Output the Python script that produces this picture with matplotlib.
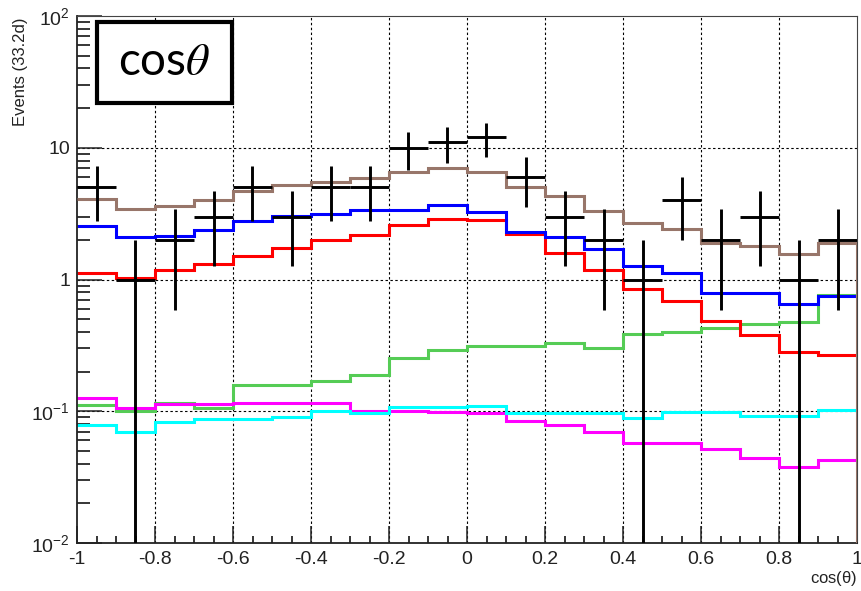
import numpy as np
import matplotlib
matplotlib.use("Agg")
import matplotlib.pyplot as plt
from matplotlib.patches import Rectangle
from matplotlib.ticker import FixedLocator, LogLocator, NullFormatter

plt.rcParams['font.family'] = ['Liberation Sans', 'DejaVu Sans']

# 20 bins in cos(theta), width 0.1
edges = np.linspace(-1.0, 1.0, 21)
centers = 0.5 * (edges[:-1] + edges[1:])

# observed events per bin
data = [5, 1, 2, 3, 5, 3, 5, 5, 10, 11, 12, 6, 3, 2, 1, 4, 2, 3, 1, 2]

# expectations per component
total = [4.1, 3.4, 3.6, 4.0, 4.7, 5.2, 5.5, 5.9, 6.5, 7.0,
         6.5, 5.0, 4.3, 3.3, 2.7, 2.4, 1.9, 1.8, 1.55, 1.9]
blue = [2.55, 2.1, 2.15, 2.36, 2.77, 3.05, 3.14, 3.39, 3.39, 3.66,
        3.23, 2.28, 2.1, 1.69, 1.26, 1.12, 0.79, 0.79, 0.65, 0.75]
red = [1.12, 1.02, 1.18, 1.31, 1.5, 1.72, 2.0, 2.17, 2.61, 2.9,
       2.81, 2.22, 1.59, 1.19, 0.85, 0.685, 0.483, 0.377, 0.281, 0.266]
green = [0.112, 0.1, 0.116, 0.106, 0.157, 0.157, 0.17, 0.188, 0.254, 0.29,
         0.313, 0.313, 0.331, 0.304, 0.383, 0.399, 0.425, 0.46, 0.475, 0.76]
magenta = [0.126, 0.105, 0.113, 0.113, 0.116, 0.116, 0.116, 0.1, 0.1, 0.098,
           0.097, 0.0845, 0.079, 0.07, 0.0579, 0.057, 0.0515, 0.0438, 0.0376, 0.0426]
cyan = [0.0783, 0.07, 0.0822, 0.088, 0.088, 0.091, 0.1005, 0.0965, 0.107, 0.107,
        0.11, 0.0965, 0.0965, 0.0965, 0.0894, 0.098, 0.098, 0.092, 0.092, 0.1016]

xtick_vals = [-1, -0.8, -0.6, -0.4, -0.2, 0, 0.2, 0.4, 0.6, 0.8, 1]
xtick_labels = ['-1', '-0.8', '-0.6', '-0.4', '-0.2', '0', '0.2', '0.4', '0.6', '0.8', '1']
ytick_vals = [1e-2, 1e-1, 1, 10, 100]
ytick_labels = [r'$\mathregular{10^{-2}}$', r'$\mathregular{10^{-1}}$', '1', '10',
                r'$\mathregular{10^{2}}$']

fig = plt.figure(figsize=(8.62, 5.91), dpi=100)
ax = fig.add_axes([77 / 862, 1 - 543 / 591, 780 / 862, 527 / 591])
ax.set_yscale('log')
ax.set_xlim(-1, 1)
ax.set_ylim(1e-2, 1e2)

# grid at major ticks, dotted like ROOT
for xv in xtick_vals[1:-1]:
    ax.axvline(xv, color='black', lw=0.8, ls=(0, (2.2, 2.2)), zorder=1)
for yv in ytick_vals[1:-1]:
    ax.axhline(yv, color='black', lw=0.8, ls=(0, (2.2, 2.2)), zorder=1)

lw = 2.2
ax.stairs(green, edges, baseline=None, color='#55cc55', lw=lw, zorder=2)
ax.stairs(magenta, edges, baseline=None, color='#ff00ff', lw=lw, zorder=2)
ax.stairs(cyan, edges, baseline=None, color='#00ffff', lw=lw, zorder=2)
ax.stairs(red, edges, baseline=None, color='#ff0000', lw=lw, zorder=2)
ax.stairs(blue, edges, baseline=None, color='#0000ff', lw=lw, zorder=2)
ax.stairs(total, edges, baseline=None, color='#98766a', lw=lw, zorder=2.6)
# total histogram closes down to the axis at the last edge
ax.vlines(edges[-1], ax.get_ylim()[0], total[-1], color='#98766a', lw=lw, zorder=2.6)

# data with Poisson errors
d = np.array(data, dtype=float)
ax.errorbar(centers, d, xerr=0.05, yerr=np.sqrt(d), fmt='none',
            ecolor='black', elinewidth=2.1, capsize=0, zorder=3)

# axes styling
for side in ['left', 'bottom']:
    ax.spines[side].set_linewidth(1.3)
    ax.spines[side].set_color('#222222')
for side in ['top', 'right']:
    ax.spines[side].set_linewidth(0.8)
    ax.spines[side].set_color('#444444')

ax.xaxis.set_major_locator(FixedLocator(xtick_vals))
ax.set_xticklabels(xtick_labels)
ax.xaxis.set_minor_locator(FixedLocator(np.arange(-1, 1.001, 0.05)))
ax.yaxis.set_major_locator(FixedLocator(ytick_vals))
ax.set_yticklabels(ytick_labels)
ax.yaxis.set_minor_locator(LogLocator(base=10, subs=np.arange(2, 10), numticks=20))
ax.yaxis.set_minor_formatter(NullFormatter())

ax.tick_params(axis='x', which='major', direction='in', length=12, width=1.1,
               labelsize=14, pad=6, colors='#222222', top=False)
ax.tick_params(axis='x', which='minor', direction='in', length=5, width=1.1, top=False)
ax.tick_params(axis='y', which='major', direction='in', length=18, width=1.1,
               labelsize=14, pad=5, colors='#222222', right=False)
ax.tick_params(axis='y', which='minor', direction='in', length=9, width=1.1, right=False)

fig.text(21 / 862, 1 - 17 / 591, 'Events (33.2d)', rotation=90, ha='center', va='top',
         fontsize=12, color='#222222')
fig.text(857 / 862, 1 - 579 / 591, r'cos($\mathregular{\theta}$)', ha='right', va='center',
         fontsize=12, color='#222222')

# label box in the top left corner
ax.add_patch(Rectangle((0.0256, 0.835), 0.1731, 0.1536, transform=ax.transAxes,
                       facecolor='white', edgecolor='black', lw=3, zorder=5))
ax.text(0.112, 0.9127, r'cos$\theta$', transform=ax.transAxes, ha='center', va='center',
        fontsize=33, family='Lato', math_fontfamily='stix', zorder=6)

fig.savefig('out.png', dpi=100)
